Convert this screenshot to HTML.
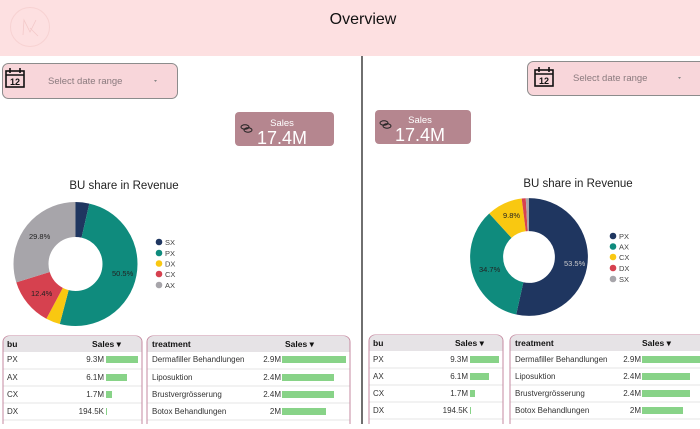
<!DOCTYPE html>
<html><head><meta charset="utf-8"><style>
body{margin:0;width:700px;height:424px;overflow:hidden;background:#fff;font-family:"Liberation Sans",Arial,sans-serif}
svg text{font-family:"Liberation Sans",Arial,sans-serif}
</style></head><body>
<svg width="700" height="424" viewBox="0 0 700 424" xmlns="http://www.w3.org/2000/svg">
<defs>
<g id="cal"><rect x="0" y="3" width="18" height="16" fill="none" stroke="#111" stroke-width="1.6"/><line x1="0" y1="7" x2="18" y2="7" stroke="#111" stroke-width="1.6"/><line x1="4" y1="0" x2="4" y2="5" stroke="#111" stroke-width="1.6"/><line x1="14" y1="0" x2="14" y2="5" stroke="#111" stroke-width="1.6"/><text x="9" y="17" font-size="9" font-weight="bold" text-anchor="middle" fill="#111">12</text></g>
<g id="coin"><ellipse cx="4" cy="3" rx="4" ry="2.2" fill="none" stroke="#222" stroke-width="1"/><ellipse cx="7" cy="6" rx="4" ry="2.2" fill="none" stroke="#222" stroke-width="1"/></g>
</defs>
<rect x="0" y="0" width="700" height="56" fill="#fde0e1"/>
<circle cx="30" cy="27" r="19.5" fill="none" stroke="#f7d2d2" stroke-width="1"/>
<path d="M23 35 L24 20 L30 32 L36 20 M30 28 L38 36" fill="none" stroke="#f3c9c9" stroke-width="0.8"/>
<text x="363" y="24" font-size="16" text-anchor="middle" fill="#111">Overview</text>
<line x1="362" y1="56" x2="362" y2="424" stroke="#222" stroke-width="1.3"/>

<!-- left date -->
<rect x="2.5" y="63.5" width="175" height="35" rx="6" fill="#f8d6da" stroke="#8c8c8c"/>
<use href="#cal" x="6" y="68"/>
<text x="48" y="84" font-size="9.5" fill="#8a7a7e">Select date range</text>
<path d="M154 80 l3 0 l-1.5 2z" fill="#888"/>
<!-- left sales -->
<rect x="235" y="112" width="99" height="34" rx="4" fill="#b5868f"/>
<use href="#coin" x="241" y="124"/>
<text x="282" y="126" font-size="9.5" fill="#fff" text-anchor="middle">Sales</text>
<text x="282" y="144" font-size="18" fill="#fff" text-anchor="middle">17.4M</text>

<!-- right date -->
<rect x="527.5" y="61.5" width="180" height="34" rx="6" fill="#f8d6da" stroke="#8c8c8c"/>
<use href="#cal" x="535" y="67"/>
<text x="573" y="81" font-size="9.5" fill="#8a7a7e">Select date range</text>
<path d="M678 77 l3 0 l-1.5 2z" fill="#888"/>
<!-- right sales -->
<rect x="375" y="110" width="96" height="34" rx="4" fill="#b5868f"/>
<use href="#coin" x="380" y="120"/>
<text x="420" y="123" font-size="9.5" fill="#fff" text-anchor="middle">Sales</text>
<text x="420" y="141" font-size="18" fill="#fff" text-anchor="middle">17.4M</text>

<!-- left donut -->
<text x="124" y="189" font-size="11.5" fill="#222" text-anchor="middle">BU share in Revenue</text>
<g transform="rotate(-90 75.5 264)" fill="none" stroke-width="35">
<circle cx="75.5" cy="264" r="44.5" pathLength="100" stroke="#1f3660" stroke-dasharray="3.6 100" stroke-dashoffset="0"/>
<circle cx="75.5" cy="264" r="44.5" pathLength="100" stroke="#0f8b7d" stroke-dasharray="50.5 100" stroke-dashoffset="-3.6"/>
<circle cx="75.5" cy="264" r="44.5" pathLength="100" stroke="#f9c811" stroke-dasharray="3.7 100" stroke-dashoffset="-54.1"/>
<circle cx="75.5" cy="264" r="44.5" pathLength="100" stroke="#d6414f" stroke-dasharray="12.4 100" stroke-dashoffset="-57.8"/>
<circle cx="75.5" cy="264" r="44.5" pathLength="100" stroke="#a7a5aa" stroke-dasharray="29.8 100" stroke-dashoffset="-70.2"/>
</g>
<g font-size="7.5" fill="#222">
<text x="112" y="276">50.5%</text><text x="31" y="296">12.4%</text><text x="29" y="239">29.8%</text>
</g>
<g font-size="7.5" fill="#444">
<circle cx="159" cy="242" r="3.3" fill="#1f3660"/><text x="165" y="245">SX</text>
<circle cx="159" cy="253" r="3.3" fill="#0f8b7d"/><text x="165" y="256">PX</text>
<circle cx="159" cy="263.5" r="3.3" fill="#f9c811"/><text x="165" y="266.5">DX</text>
<circle cx="159" cy="274" r="3.3" fill="#d6414f"/><text x="165" y="277">CX</text>
<circle cx="159" cy="285" r="3.3" fill="#a7a5aa"/><text x="165" y="288">AX</text>
</g>

<!-- right donut -->
<text x="578" y="187" font-size="11.5" fill="#222" text-anchor="middle">BU share in Revenue</text>
<g transform="rotate(-90 529 257)" fill="none" stroke-width="33">
<circle cx="529" cy="257" r="42.4" pathLength="100" stroke="#1f3660" stroke-dasharray="53.5 100" stroke-dashoffset="0"/>
<circle cx="529" cy="257" r="42.4" pathLength="100" stroke="#0f8b7d" stroke-dasharray="34.7 100" stroke-dashoffset="-53.5"/>
<circle cx="529" cy="257" r="42.4" pathLength="100" stroke="#f9c811" stroke-dasharray="9.8 100" stroke-dashoffset="-88.2"/>
<circle cx="529" cy="257" r="42.4" pathLength="100" stroke="#d6414f" stroke-dasharray="1.1 100" stroke-dashoffset="-98"/>
<circle cx="529" cy="257" r="42.4" pathLength="100" stroke="#a7a5aa" stroke-dasharray="0.9 100" stroke-dashoffset="-99.1"/>
</g>
<g font-size="7.5" fill="#222">
<text x="564" y="266" fill="#ccc">53.5%</text><text x="479" y="272">34.7%</text><text x="503" y="218">9.8%</text>
</g>
<g font-size="7.5" fill="#444">
<circle cx="613" cy="236" r="3.3" fill="#1f3660"/><text x="619" y="239">PX</text>
<circle cx="613" cy="246.5" r="3.3" fill="#0f8b7d"/><text x="619" y="249.5">AX</text>
<circle cx="613" cy="257" r="3.3" fill="#f9c811"/><text x="619" y="260">CX</text>
<circle cx="613" cy="268" r="3.3" fill="#d6414f"/><text x="619" y="271">DX</text>
<circle cx="613" cy="279" r="3.3" fill="#a7a5aa"/><text x="619" y="282">SX</text>
</g>

<!-- tables -->
<g font-size="8" fill="#333">
<rect x="3" y="336" width="139" height="100" rx="6" fill="#fff" stroke="#c58aa0"/>
<path d="M3.5 352 V342 a6 6 0 0 1 6 -6 H135.5 a6 6 0 0 1 6 6 V352z" fill="#e6e3e6"/>
<text x="7" y="347" font-weight="bold" font-size="8.5" fill="#111">bu</text>
<text x="92" y="347" font-weight="bold" font-size="8.5" fill="#111">Sales ▾</text>
<text x="7" y="362">PX</text><text x="104" y="362" text-anchor="end">9.3M</text><rect x="106" y="356" width="32" height="7" fill="#88d388"/>
<line x1="3.5" y1="369" x2="141.5" y2="369" stroke="#e4e4e4"/>
<text x="7" y="380">AX</text><text x="104" y="380" text-anchor="end">6.1M</text><rect x="106" y="374" width="21" height="7" fill="#88d388"/>
<line x1="3.5" y1="386" x2="141.5" y2="386" stroke="#e4e4e4"/>
<text x="7" y="397">CX</text><text x="104" y="397" text-anchor="end">1.7M</text><rect x="106" y="391" width="6" height="7" fill="#88d388"/>
<line x1="3.5" y1="403" x2="141.5" y2="403" stroke="#e4e4e4"/>
<text x="7" y="414">DX</text><text x="104" y="414" text-anchor="end">194.5K</text><rect x="106" y="408" width="1" height="7" fill="#88d388"/>
<line x1="3.5" y1="420" x2="141.5" y2="420" stroke="#e4e4e4"/>
<rect x="147" y="336" width="203" height="100" rx="6" fill="#fff" stroke="#c58aa0"/>
<path d="M147.5 352 V342 a6 6 0 0 1 6 -6 H343.5 a6 6 0 0 1 6 6 V352z" fill="#e6e3e6"/>
<text x="152" y="347" font-weight="bold" font-size="8.5" fill="#111">treatment</text>
<text x="285" y="347" font-weight="bold" font-size="8.5" fill="#111">Sales ▾</text>
<text x="152" y="362">Dermafiller Behandlungen</text><text x="281" y="362" text-anchor="end">2.9M</text><rect x="282" y="356" width="64" height="7" fill="#88d388"/>
<line x1="147.5" y1="369" x2="349.5" y2="369" stroke="#e4e4e4"/>
<text x="152" y="380">Liposuktion</text><text x="281" y="380" text-anchor="end">2.4M</text><rect x="282" y="374" width="52" height="7" fill="#88d388"/>
<line x1="147.5" y1="386" x2="349.5" y2="386" stroke="#e4e4e4"/>
<text x="152" y="397">Brustvergrösserung</text><text x="281" y="397" text-anchor="end">2.4M</text><rect x="282" y="391" width="52" height="7" fill="#88d388"/>
<line x1="147.5" y1="403" x2="349.5" y2="403" stroke="#e4e4e4"/>
<text x="152" y="414">Botox Behandlungen</text><text x="281" y="414" text-anchor="end">2M</text><rect x="282" y="408" width="44" height="7" fill="#88d388"/>
<line x1="147.5" y1="420" x2="349.5" y2="420" stroke="#e4e4e4"/>

<rect x="369" y="335" width="134" height="100" rx="6" fill="#fff" stroke="#c58aa0"/>
<path d="M369.5 351 V341 a6 6 0 0 1 6 -6 H496.5 a6 6 0 0 1 6 6 V351z" fill="#e6e3e6"/>
<text x="373" y="346" font-weight="bold" font-size="8.5" fill="#111">bu</text>
<text x="455" y="346" font-weight="bold" font-size="8.5" fill="#111">Sales ▾</text>
<text x="373" y="362">PX</text><text x="468" y="362" text-anchor="end">9.3M</text><rect x="470" y="356" width="29" height="7" fill="#88d388"/>
<line x1="369.5" y1="368" x2="502.5" y2="368" stroke="#e4e4e4"/>
<text x="373" y="379">AX</text><text x="468" y="379" text-anchor="end">6.1M</text><rect x="470" y="373" width="19" height="7" fill="#88d388"/>
<line x1="369.5" y1="385" x2="502.5" y2="385" stroke="#e4e4e4"/>
<text x="373" y="396">CX</text><text x="468" y="396" text-anchor="end">1.7M</text><rect x="470" y="390" width="5" height="7" fill="#88d388"/>
<line x1="369.5" y1="402" x2="502.5" y2="402" stroke="#e4e4e4"/>
<text x="373" y="413">DX</text><text x="468" y="413" text-anchor="end">194.5K</text><rect x="470" y="407" width="1" height="7" fill="#88d388"/>
<line x1="369.5" y1="419" x2="502.5" y2="419" stroke="#e4e4e4"/>
<rect x="510" y="335" width="210" height="100" rx="6" fill="#fff" stroke="#c58aa0"/>
<path d="M510.5 351 V341 a6 6 0 0 1 6 -6 H713 V351z" fill="#e6e3e6"/>
<text x="515" y="346" font-weight="bold" font-size="8.5" fill="#111">treatment</text>
<text x="642" y="346" font-weight="bold" font-size="8.5" fill="#111">Sales ▾</text>
<text x="515" y="362">Dermafiller Behandlungen</text><text x="641" y="362" text-anchor="end">2.9M</text><rect x="642" y="356" width="60" height="7" fill="#88d388"/>
<line x1="510.5" y1="368" x2="700" y2="368" stroke="#e4e4e4"/>
<text x="515" y="379">Liposuktion</text><text x="641" y="379" text-anchor="end">2.4M</text><rect x="642" y="373" width="48" height="7" fill="#88d388"/>
<line x1="510.5" y1="385" x2="700" y2="385" stroke="#e4e4e4"/>
<text x="515" y="396">Brustvergrösserung</text><text x="641" y="396" text-anchor="end">2.4M</text><rect x="642" y="390" width="48" height="7" fill="#88d388"/>
<line x1="510.5" y1="402" x2="700" y2="402" stroke="#e4e4e4"/>
<text x="515" y="413">Botox Behandlungen</text><text x="641" y="413" text-anchor="end">2M</text><rect x="642" y="407" width="41" height="7" fill="#88d388"/>
<line x1="510.5" y1="419" x2="700" y2="419" stroke="#e4e4e4"/>
</g>
</svg>
</body></html>
